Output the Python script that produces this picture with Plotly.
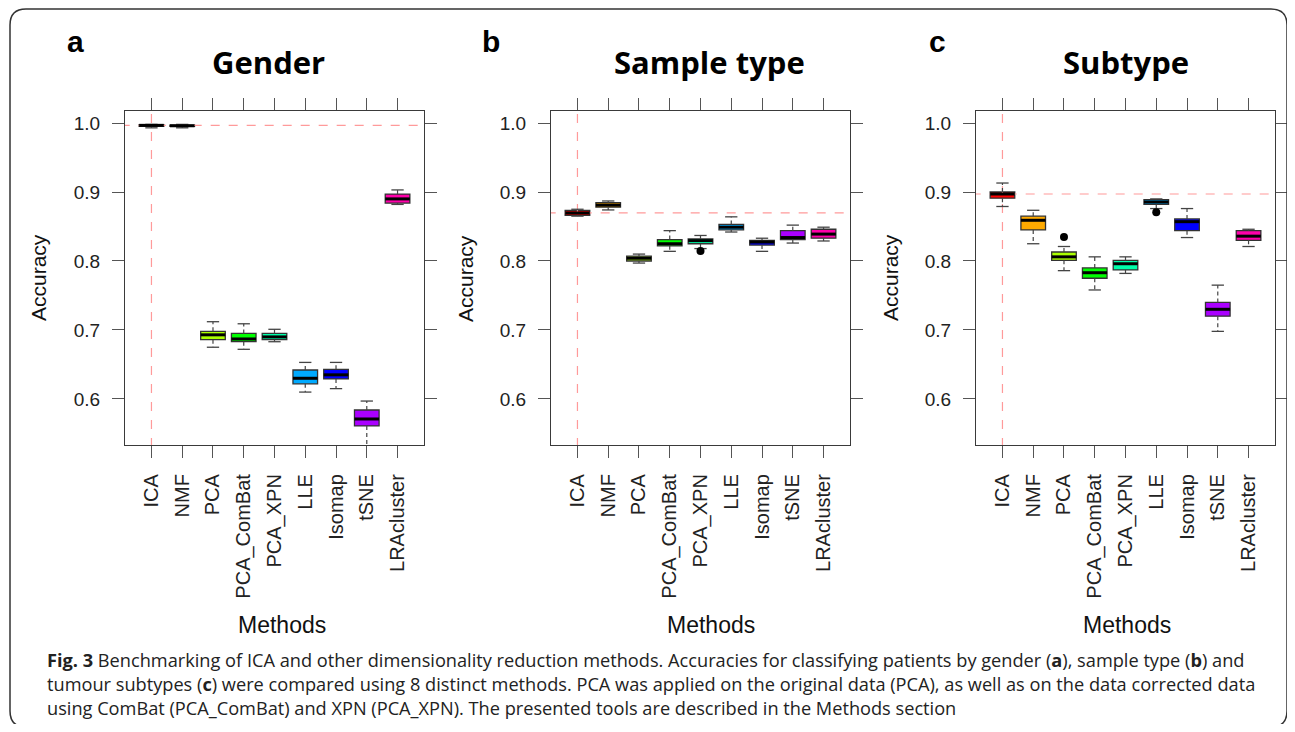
import plotly.graph_objects as go

# page body has an 8px margin, so the figure is laid out in page coordinates minus 8
OFF = 8
W, H = 1295 - 2 * OFF, 732 - 2 * OFF

methods = ["ICA", "NMF", "PCA", "PCA_ComBat", "PCA_XPN", "LLE", "Isomap", "tSNE", "LRAcluster"]
colors = ["#FF0000", "#FFAA00", "#AAFF00", "#00FF00", "#00FFAA", "#00AAFF", "#0000FF", "#AA00FF", "#FF00AA"]

# Gender (a): lower whisker, q1, median, q3, upper whisker
gender_lo  = [0.993, 0.993, 0.675, 0.672, 0.683, 0.610, 0.615, 0.520, 0.882]
gender_q1  = [0.995, 0.995, 0.686, 0.683, 0.686, 0.622, 0.629, 0.561, 0.884]
gender_med = [0.9966, 0.996, 0.693, 0.687, 0.690, 0.630, 0.635, 0.571, 0.890]
gender_q3  = [0.9975, 0.997, 0.698, 0.695, 0.695, 0.642, 0.643, 0.584, 0.897]
gender_hi  = [0.998, 0.998, 0.712, 0.709, 0.701, 0.653, 0.653, 0.597, 0.903]
gender_out_x = []
gender_out_y = []

# Sample type (b)
sample_lo  = [0.865, 0.874, 0.797, 0.814, 0.818, 0.842, 0.814, 0.826, 0.829]
sample_q1  = [0.866, 0.878, 0.800, 0.822, 0.825, 0.845, 0.823, 0.831, 0.833]
sample_med = [0.8696, 0.881, 0.804, 0.825, 0.8295, 0.849, 0.8275, 0.834, 0.839]
sample_q3  = [0.8735, 0.8845, 0.807, 0.831, 0.832, 0.853, 0.830, 0.844, 0.846]
sample_hi  = [0.875, 0.887, 0.810, 0.844, 0.837, 0.864, 0.833, 0.852, 0.849]
sample_out_x = ["PCA_XPN"]
sample_out_y = [0.8145]

# Subtype (c)
subtype_lo  = [0.879, 0.825, 0.786, 0.758, 0.782, 0.876, 0.834, 0.698, 0.821]
subtype_q1  = [0.891, 0.845, 0.801, 0.775, 0.787, 0.882, 0.844, 0.720, 0.830]
subtype_med = [0.8971, 0.859, 0.806, 0.783, 0.796, 0.8855, 0.857, 0.730, 0.836]
subtype_q3  = [0.900, 0.865, 0.813, 0.790, 0.801, 0.889, 0.861, 0.740, 0.844]
subtype_hi  = [0.913, 0.8735, 0.821, 0.806, 0.806, 0.890, 0.876, 0.765, 0.846]
subtype_out_x = ["PCA", "LLE"]
subtype_out_y = [0.8348, 0.8705]

panels = [
    dict(title="Gender", letter="a", lo=gender_lo, q1=gender_q1, med=gender_med, q3=gender_q3, hi=gender_hi,
         ox=gender_out_x, oy=gender_out_y, left=125, right=424, tx=268, lx=75, mx=282, ax=38),
    dict(title="Sample type", letter="b", lo=sample_lo, q1=sample_q1, med=sample_med, q3=sample_q3, hi=sample_hi,
         ox=sample_out_x, oy=sample_out_y, left=551, right=850, tx=709, lx=491, mx=711, ax=465),
    dict(title="Subtype", letter="c", lo=subtype_lo, q1=subtype_q1, med=subtype_med, q3=subtype_q3, hi=subtype_hi,
         ox=subtype_out_x, oy=subtype_out_y, left=976, right=1275, tx=1126, lx=937, mx=1127, ax=890),
]

def px(x):
    return (x - OFF) / W

def py(y):
    return 1 - (y - OFF) / H

BOXW = 0.8
STAPLE = 0.2
AXFONT = "Liberation Sans, Arial, sans-serif"

fig = go.Figure()
annotations = []
shapes = []

for k, p in enumerate(panels):
    n = k + 1
    xa = "x" if n == 1 else f"x{n}"
    ya = "y" if n == 1 else f"y{n}"
    idx = list(range(len(methods)))

    # reference lines at ICA median
    fig.add_trace(go.Scatter(x=[-1, 9], y=[p["med"][0]] * 2, mode="lines",
                             line=dict(color="#FF9A9A", width=1.2, dash="dash"),
                             xaxis=xa, yaxis=ya, showlegend=False, hoverinfo="skip"))
    fig.add_trace(go.Scatter(x=[0, 0], y=[0.4, 1.1], mode="lines",
                             line=dict(color="#FF9A9A", width=1.2, dash="dash"),
                             xaxis=xa, yaxis=ya, showlegend=False, hoverinfo="skip"))

    # dashed whiskers and solid staples
    wx, wy = [], []
    sx, sy = [], []
    for i in idx:
        wx += [i, i, None, i, i, None]
        wy += [p["q3"][i], p["hi"][i], None, p["q1"][i], p["lo"][i], None]
        sx += [i - STAPLE, i + STAPLE, None, i - STAPLE, i + STAPLE, None]
        sy += [p["hi"][i], p["hi"][i], None, p["lo"][i], p["lo"][i], None]
    fig.add_trace(go.Scatter(x=wx, y=wy, mode="lines", line=dict(color="#444", width=1.2, dash="4px,3px"),
                             xaxis=xa, yaxis=ya, showlegend=False, hoverinfo="skip"))
    fig.add_trace(go.Scatter(x=sx, y=sy, mode="lines", line=dict(color="#444", width=1.3),
                             xaxis=xa, yaxis=ya, showlegend=False, hoverinfo="skip"))

    for i in idx:
        fig.add_trace(go.Box(x=[i], q1=[p["q1"][i]], median=[p["med"][i]], q3=[p["q3"][i]],
                             lowerfence=[p["q1"][i]], upperfence=[p["q3"][i]],
                             width=BOXW, whiskerwidth=0, fillcolor=colors[i],
                             line=dict(color="#333333", width=1.3),
                             xaxis=xa, yaxis=ya, showlegend=False, boxpoints=False, hoverinfo="skip"))

    mx_, my_ = [], []
    for i in idx:
        mx_ += [i - BOXW / 2, i + BOXW / 2, None]
        my_ += [p["med"][i], p["med"][i], None]
    fig.add_trace(go.Scatter(x=mx_, y=my_, mode="lines", line=dict(color="#000", width=3),
                             xaxis=xa, yaxis=ya, showlegend=False, hoverinfo="skip"))

    if p["ox"]:
        fig.add_trace(go.Scatter(x=[methods.index(m) for m in p["ox"]], y=p["oy"], mode="markers",
                                 marker=dict(color="#000", size=8, symbol="circle"),
                                 xaxis=xa, yaxis=ya, showlegend=False, hoverinfo="skip"))

    axis_common = dict(showline=True, mirror="ticks", linecolor="#3a3a3a", linewidth=1.3,
                       ticks="outside", ticklen=12, tickcolor="#555", tickwidth=1.2,
                       showgrid=False, zeroline=False)
    fig.layout[f"xaxis{'' if n == 1 else n}"] = dict(
        domain=[px(p["left"]), px(p["right"])], range=[-0.86, 8.86], anchor=ya,
        tickvals=idx, ticktext=methods, tickangle=-90, ticklabelstandoff=8,
        tickfont=dict(family=AXFONT, size=20, color="#222"), **axis_common)
    fig.layout[f"yaxis{'' if n == 1 else n}"] = dict(
        domain=[py(445), py(111)], range=[0.5333, 1.0174], anchor=xa,
        tickvals=[0.6, 0.7, 0.8, 0.9, 1.0], ticktext=["0.6", "0.7", "0.8", "0.9", "1.0"],
        ticklabelstandoff=8, tickfont=dict(family=AXFONT, size=19, color="#222"), **axis_common)

    annotations.append(dict(text=p["title"], x=px(p["tx"]), y=py(62), xref="paper", yref="paper",
                            showarrow=False, xanchor="center", yanchor="middle",
                            font=dict(family="Open Sans, sans-serif", size=31, color="#000", weight="bold")))
    annotations.append(dict(text=p["letter"], x=px(p["lx"]), y=py(42), xref="paper", yref="paper",
                            showarrow=False, xanchor="center", yanchor="middle",
                            font=dict(family="Liberation Sans, Arial, sans-serif", size=30, color="#000", weight="bold")))
    annotations.append(dict(text="Methods", x=px(p["mx"]), y=py(625), xref="paper", yref="paper",
                            showarrow=False, xanchor="center", yanchor="middle",
                            font=dict(family=AXFONT, size=23, color="#111")))
    annotations.append(dict(text="Accuracy", x=px(p["ax"]), y=py(278), xref="paper", yref="paper",
                            showarrow=False, xanchor="center", yanchor="middle", textangle=-90,
                            font=dict(family=AXFONT, size=21, color="#111")))

caption_lines = [
    "<b>Fig. 3</b> Benchmarking of ICA and other dimensionality reduction methods. Accuracies for classifying patients by gender (<b>a</b>), sample type (<b>b</b>) and",
    "tumour subtypes (<b>c</b>) were compared using 8 distinct methods. PCA was applied on the original data (PCA), as well as on the data corrected data",
    "using ComBat (PCA_ComBat) and XPN (PCA_XPN). The presented tools are described in the Methods section",
]
for j, line in enumerate(caption_lines):
    annotations.append(dict(text=line, x=px(45), y=py(660 + 24 * j), xref="paper", yref="paper",
                            showarrow=False, xanchor="left", yanchor="middle", align="left",
                            font=dict(family="Open Sans, sans-serif", size=18.2, color="#222")))

# rounded outer frame
x0, x1, y0, y1, r = px(10), px(1287), py(9), py(727), 16
rx, ry = r / W, r / H
path = (f"M {x0 + rx} {y0} L {x1 - rx} {y0} Q {x1} {y0} {x1} {y0 - ry} "
        f"L {x1} {y1 + ry} Q {x1} {y1} {x1 - rx} {y1} L {x0 + rx} {y1} "
        f"Q {x0} {y1} {x0} {y1 + ry} L {x0} {y0 - ry} Q {x0} {y0} {x0 + rx} {y0} Z")
shapes.append(dict(type="path", path=path, xref="paper", yref="paper",
                   line=dict(color="#333", width=1.5), fillcolor="rgba(0,0,0,0)"))

fig.update_layout(width=W, height=H, margin=dict(l=0, r=0, t=0, b=0),
                  paper_bgcolor="white", plot_bgcolor="white",
                  annotations=annotations, shapes=shapes, showlegend=False, boxmode="overlay")

fig.write_html("out.html")
